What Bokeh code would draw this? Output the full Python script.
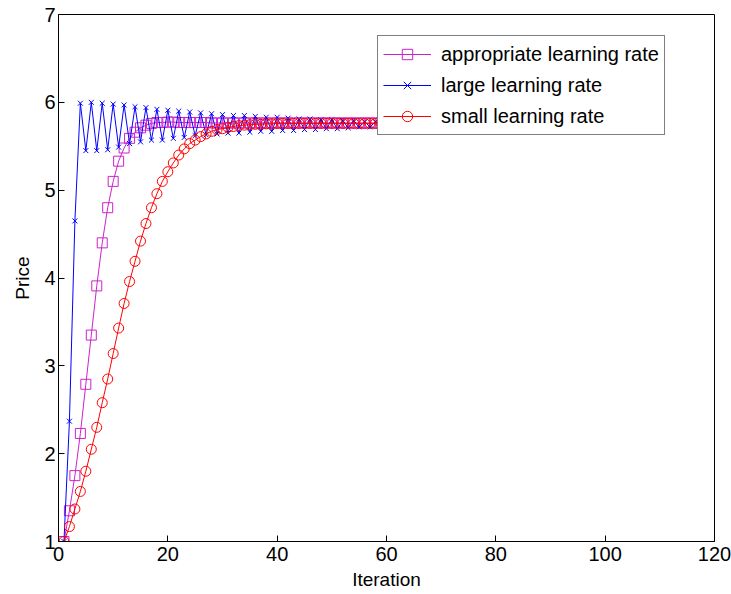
from bokeh.plotting import figure
from bokeh.models import Range1d, Legend, LegendItem, FixedTicker
from bokeh.embed import file_html
from bokeh.resources import INLINE

iterations = list(range(1, 71))

appropriate = [1.00, 1.35, 1.75, 2.23, 2.79, 3.35, 3.91, 4.40, 4.80, 5.10,
               5.33, 5.48, 5.59, 5.66, 5.71, 5.74, 5.76, 5.77, 5.77, 5.775,
               5.775, 5.77, 5.77, 5.77, 5.77, 5.77, 5.77, 5.765, 5.765, 5.765,
               5.765, 5.765, 5.765, 5.765, 5.765, 5.765, 5.765, 5.765, 5.765, 5.765,
               5.765, 5.765, 5.765, 5.765, 5.765, 5.765, 5.765, 5.765, 5.765, 5.765,
               5.765, 5.765, 5.765, 5.765, 5.765, 5.765, 5.765, 5.765, 5.765, 5.765,
               5.765, 5.765, 5.765, 5.765, 5.765, 5.765, 5.765, 5.765, 5.765, 5.765]

large = [1.00, 2.37, 4.65, 5.99, 5.45, 6.00, 5.45, 5.99, 5.46, 5.98,
         5.49, 5.97, 5.53, 5.95, 5.55, 5.94, 5.57, 5.92, 5.57, 5.91,
         5.59, 5.90, 5.60, 5.89, 5.62, 5.88, 5.63, 5.87, 5.64, 5.86,
         5.65, 5.85, 5.65, 5.85, 5.66, 5.84, 5.67, 5.83, 5.67, 5.83,
         5.68, 5.82, 5.68, 5.81, 5.69, 5.81, 5.69, 5.80, 5.70, 5.80,
         5.70, 5.79, 5.71, 5.79, 5.72, 5.78, 5.72, 5.78, 5.73, 5.78,
         5.73, 5.78, 5.735, 5.775, 5.74, 5.775, 5.745, 5.77, 5.75, 5.77]

small = [1.00, 1.17, 1.37, 1.57, 1.80, 2.05, 2.30, 2.58, 2.85, 3.14,
         3.43, 3.71, 3.96, 4.19, 4.42, 4.62, 4.80, 4.96, 5.10, 5.21,
         5.31, 5.40, 5.47, 5.53, 5.57, 5.61, 5.64, 5.67, 5.69, 5.70,
         5.715, 5.725, 5.735, 5.74, 5.745, 5.75, 5.75, 5.755, 5.755, 5.76,
         5.76, 5.76, 5.76, 5.76, 5.76, 5.76, 5.76, 5.76, 5.76, 5.76,
         5.76, 5.76, 5.76, 5.76, 5.76, 5.76, 5.76, 5.76, 5.76, 5.76,
         5.76, 5.76, 5.76, 5.76, 5.76, 5.76, 5.76, 5.76, 5.76, 5.76]

labels = ["appropriate learning rate", "large learning rate", "small learning rate"]
x_ticks = [0, 20, 40, 60, 80, 100, 120]
y_ticks = [1, 2, 3, 4, 5, 6, 7]

FONT = "Liberation Sans"
MAGENTA = "#CC22CC"
BLUE = "#0000FF"
RED = "#FF0000"

p = figure(width=731, height=594, output_backend="svg", toolbar_location=None,
           x_range=Range1d(0, 120), y_range=Range1d(1, 7),
           min_border_left=58, min_border_right=17, min_border_top=14, min_border_bottom=53)
p.background_fill_color = "white"
p.border_fill_color = "white"
p.outline_line_color = "black"
p.outline_line_width = 1
p.xgrid.visible = False
p.ygrid.visible = False

for ax, ticks in ((p.xaxis, x_ticks), (p.yaxis, y_ticks)):
    ax.ticker = FixedTicker(ticks=ticks)
    ax.major_tick_in = 6
    ax.major_tick_out = 0
    ax.minor_tick_line_color = None
    ax.axis_line_color = "black"
    ax.major_tick_line_color = "black"
    ax.major_label_text_font = FONT
    ax.major_label_text_font_size = "20px"
    ax.major_label_text_color = "black"
    ax.axis_label_text_font = FONT
    ax.axis_label_text_font_size = "19px"
    ax.axis_label_text_font_style = "normal"
    ax.axis_label_text_color = "black"

p.xaxis.axis_label = "Iteration"
p.yaxis.axis_label = "Price"
p.xaxis.major_label_standoff = 5
p.xaxis.axis_label_standoff = 5
p.yaxis.major_label_standoff = 3
p.yaxis.axis_label_standoff = 8

l1 = p.line(iterations, appropriate, line_color=MAGENTA, line_width=1)
s1 = p.scatter(iterations, appropriate, marker="square", size=10, fill_color=None,
               line_color=MAGENTA, line_width=1)
l2 = p.line(iterations, large, line_color=BLUE, line_width=1)
s2 = p.scatter(iterations, large, marker="x", size=7, line_color=BLUE, line_width=1)
l3 = p.line(iterations, small, line_color=RED, line_width=1)
s3 = p.scatter(iterations, small, marker="circle", size=10, fill_color=None,
               line_color=RED, line_width=1)

legend = Legend(items=[
    LegendItem(label=labels[0], renderers=[l1, s1]),
    LegendItem(label=labels[1], renderers=[l2, s2]),
    LegendItem(label=labels[2], renderers=[l3, s3]),
], location=(319, 406))
legend.margin = 0
legend.padding = 5
legend.spacing = 5
legend.glyph_width = 48
legend.glyph_height = 26
legend.label_height = 26
legend.label_standoff = 10
legend.label_text_font = FONT
legend.label_text_font_size = "20px"
legend.label_text_color = "black"
legend.border_line_color = "black"
legend.border_line_width = 1
legend.background_fill_color = "white"
legend.background_fill_alpha = 1.0
p.add_layout(legend, "center")

open("out.html", "w").write(file_html(p, INLINE))
